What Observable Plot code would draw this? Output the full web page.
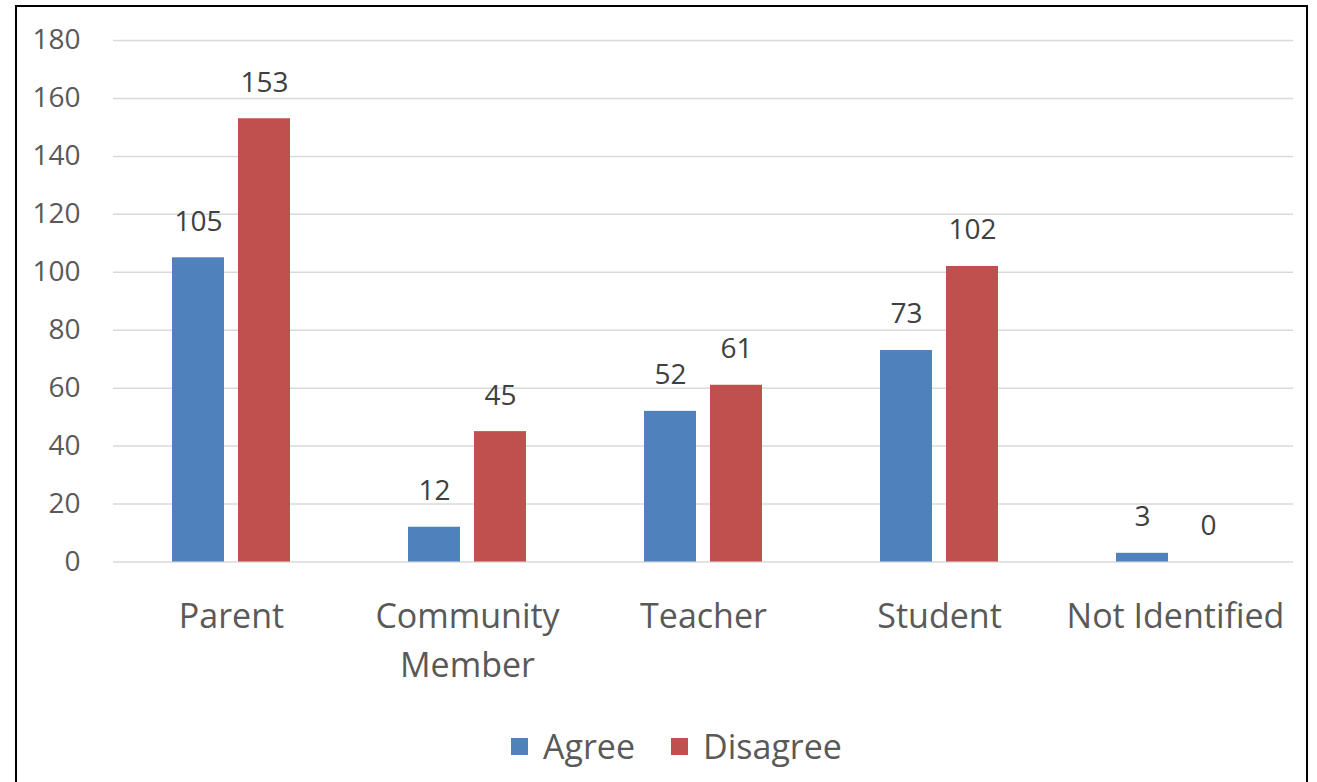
<!DOCTYPE html>
<html><head><meta charset="utf-8">
<script src="https://cdn.jsdelivr.net/npm/d3@7"></script>
<script src="https://cdn.jsdelivr.net/npm/@observablehq/plot@0.6"></script>
<style>
html,body{margin:0;padding:0;background:#fff;overflow:hidden;}
#wrap{position:relative;width:1317px;height:782px;font-family:"Open Sans",sans-serif;}
#frame{position:absolute;left:15px;top:5px;width:1289px;height:820px;border:2px solid #000;box-sizing:content-box;}
#chart{position:absolute;left:0;top:0;}
#legend{position:absolute;left:511px;top:724px;height:44px;display:flex;align-items:center;font-size:34px;color:#595959;}
.sw{display:inline-block;width:17px;height:17px;margin-right:15px;}
.item{display:flex;align-items:center;margin-right:36px;}
</style></head>
<body>
<div id="wrap"><div id="frame"></div><div id="chart"></div><div id="legend"></div></div>
<script>
const categories = ["Parent", "Community Member", "Teacher", "Student", "Not Identified"];
const tickLabels = ["Parent", "Community\nMember", "Teacher", "Student", "Not Identified"];
const series = ["Agree", "Disagree"];
const agree = [105, 12, 52, 73, 3];
const disagree = [153, 45, 61, 102, 0];
const yTicks = [0, 20, 40, 60, 80, 100, 120, 140, 160, 180];
const colors = ["#4F81BD", "#C0504D"];

const rows = categories.flatMap((c, i) => [
  {category: c, series: "Agree", value: agree[i]},
  {category: c, series: "Disagree", value: disagree[i]}
]);

const H = 700;
const chart = Plot.plot({
  width: 1317, height: H,
  marginLeft: 113, marginRight: 24, marginTop: 40, marginBottom: H - 561.5,
  style: {fontFamily: "'Open Sans', sans-serif", color: "#595959", background: "transparent"},
  fx: {domain: categories, padding: 0, label: null},
  x: {domain: series, paddingInner: 0.21, paddingOuter: 0.87, axis: null},
  y: {domain: [0, 180], label: null},
  color: {domain: series, range: colors},
  marks: [
    Plot.gridY(yTicks, {stroke: "#d9d9d9", strokeOpacity: 1, strokeWidth: 1.5}),
    Plot.axisY(yTicks, {tickSize: 0, tickPadding: 33, fontSize: 28, label: null, fill: "#595959"}),
    Plot.axisFx({anchor: "bottom", tickSize: 0, tickPadding: 30, fontSize: 34, lineHeight: 1.47,
      tickFormat: d => tickLabels[categories.indexOf(d)], label: null, fill: "#595959"}),
    Plot.barY(rows, {fx: "category", x: "series", y: "value", fill: "series"}),
    Plot.text(rows, {fx: "category", x: "series", y: "value", text: d => String(d.value),
      dy: -36, fontSize: 28, fill: "#404040"})
  ]
});
document.getElementById("chart").appendChild(chart);

const legend = document.getElementById("legend");
series.forEach((s, i) => {
  const item = document.createElement("div");
  item.className = "item";
  const sw = document.createElement("span");
  sw.className = "sw";
  sw.style.background = colors[i];
  item.appendChild(sw);
  item.appendChild(document.createTextNode(s));
  legend.appendChild(item);
});
</script>
</body></html>
